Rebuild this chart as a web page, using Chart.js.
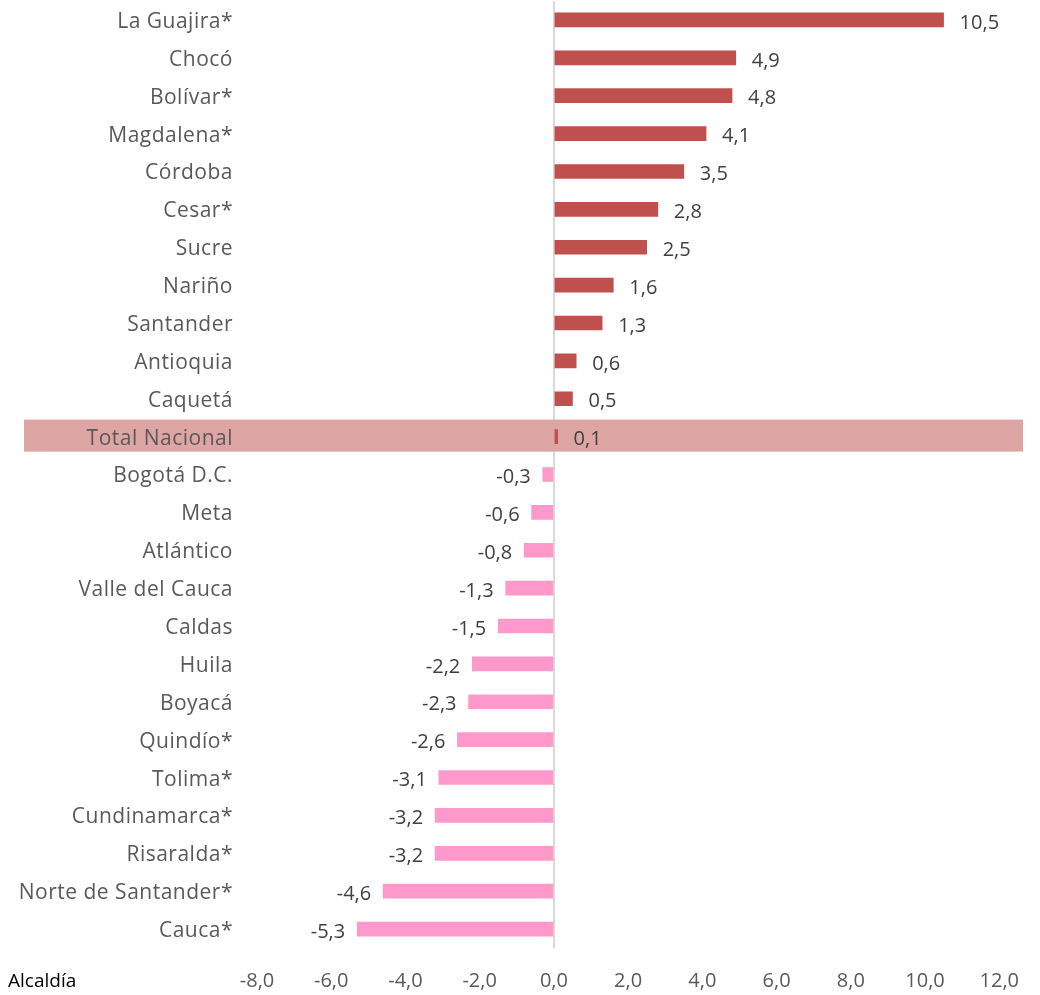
<!DOCTYPE html>
<html>
<head>
<meta charset="utf-8">
<script src="https://cdn.jsdelivr.net/npm/chart.js@4/dist/chart.umd.min.js"></script>
<style>
html,body{margin:0;padding:0;background:#fff;}
#wrap{position:relative;width:1040px;height:995px;}
#note{position:absolute;left:8px;top:967px;font-family:"Open Sans",sans-serif;font-size:19px;color:#000;}
</style>
</head>
<body>
<div id="wrap"><canvas id="c" width="1040" height="995"></canvas><div id="note">Alcaldía</div></div>
<script>
const categories = ["La Guajira*","Chocó","Bolívar*","Magdalena*","Córdoba","Cesar*","Sucre","Nariño","Santander","Antioquia","Caquetá","Total Nacional","Bogotá D.C.","Meta","Atlántico","Valle del Cauca","Caldas","Huila","Boyacá","Quindío*","Tolima*","Cundinamarca*","Risaralda*","Norte de Santander*","Cauca*"];
const values = [10.5,4.9,4.8,4.1,3.5,2.8,2.5,1.6,1.3,0.6,0.5,0.1,-0.3,-0.6,-0.8,-1.3,-1.5,-2.2,-2.3,-2.6,-3.1,-3.2,-3.2,-4.6,-5.3];
const xTicks = [-8,-6,-4,-2,0,2,4,6,8,10,12];
const highlight = "Total Nacional";

const FONT = '"Open Sans", sans-serif';
const fmt = v => v.toFixed(1).replace('.', ',');

const bandPlugin = {
  id: 'band',
  beforeDatasetsDraw(chart) {
    const y = chart.scales.y;
    const idx = categories.indexOf(highlight);
    const yc = y.getPixelForValue(idx);
    const ctx = chart.ctx;
    ctx.save();
    ctx.fillStyle = '#DDA5A3';
    ctx.fillRect(24, yc - 17, 1023 - 24, 32);
    ctx.restore();
  }
};

const labelPlugin = {
  id: 'vlabels',
  afterDatasetsDraw(chart) {
    const ctx = chart.ctx;
    const meta = chart.getDatasetMeta(0);
    ctx.save();
    ctx.font = '20px ' + FONT;
    ctx.fillStyle = '#404040';
    ctx.textBaseline = 'middle';
    meta.data.forEach((bar, i) => {
      const v = values[i];
      if (v >= 0) {
        ctx.textAlign = 'left';
        ctx.fillText(fmt(v), bar.x + 16, bar.y + 3);
      } else {
        ctx.textAlign = 'right';
        ctx.fillText(fmt(v), bar.x - 12, bar.y + 3);
      }
    });
    ctx.restore();
  }
};

const catLabelPlugin = {
  id: 'catlabels',
  afterDatasetsDraw(chart) {
    const y = chart.scales.y;
    const ctx = chart.ctx;
    ctx.save();
    ctx.font = '21px ' + FONT;
    try { ctx.letterSpacing = '0.5px'; } catch (e) {}
    ctx.fillStyle = '#595959';
    ctx.textAlign = 'right';
    ctx.textBaseline = 'middle';
    categories.forEach((c, i) => {
      ctx.fillText(c, 233, y.getPixelForValue(i) + 2);
    });
    ctx.restore();
  }
};

new Chart(document.getElementById('c'), {
  type: 'bar',
  data: {
    labels: categories,
    datasets: [{
      data: values,
      backgroundColor: values.map(v => v >= 0 ? '#C0504D' : '#FF99CC'),
      barThickness: 14
    }]
  },
  options: {
    indexAxis: 'y',
    responsive: false,
    animation: false,
    layout: { padding: { left: 0, right: 39, top: 1, bottom: 0 } },
    plugins: { legend: { display: false }, tooltip: { enabled: false } },
    scales: {
      x: {
        min: -8, max: 12,
        afterBuildTicks(scale) { scale.ticks = xTicks.map(v => ({ value: v })); },
        afterFit(scale) { scale.height = 47; },
        ticks: {
          padding: 21,
          color: '#595959',
          font: { family: FONT, size: 20 },
          callback: v => fmt(v),
          maxRotation: 0
        },
        border: { display: false },
        grid: {
          drawTicks: false,
          color: ctx => (ctx.tick && ctx.tick.value === 0) ? '#D9D9D9' : 'rgba(0,0,0,0)',
          lineWidth: ctx => (ctx.tick && ctx.tick.value === 0) ? 2 : 0
        }
      },
      y: {
        afterFit(scale) { scale.width = 257; },
        ticks: { display: false },
        border: { display: false },
        grid: { display: false, drawTicks: false }
      }
    }
  },
  plugins: [bandPlugin, labelPlugin, catLabelPlugin]
});
</script>
</body>
</html>
